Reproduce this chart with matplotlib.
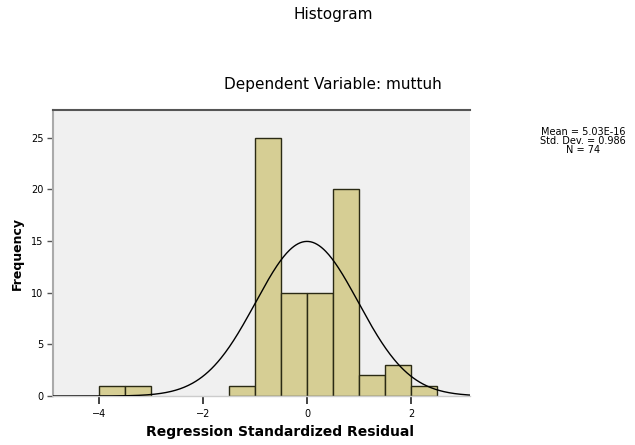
import numpy as np
import matplotlib
matplotlib.use('Agg')
import matplotlib.pyplot as plt

plt.rcParams['font.family']=['DejaVu Sans']

#histogram data (bin edges and counts)
bin_left=[-4.0,-3.5,-1.5,-1.0,-0.5,0.0,0.5,1.0,1.5,2.0]
bin_count=[1,1,1,25,10,10,20,2,3,1]
bin_width=0.5

#summary statistics shown in the legend
mean_value=5.03e-16
std_value=0.986
n_value=74

x_ticks=[-4,-2,0,2]
y_ticks=[0,5,10,15,20,25]

fig=plt.figure(figsize=(6.35,4.45),dpi=100)
ax=fig.add_axes([0.0835,0.110,0.6565,0.643])
ax.set_facecolor('#f0f0f0')

#bars
ax.bar(bin_left,bin_count,width=bin_width,align='edge',
       color='#d6ce94',edgecolor='#2a2a14',linewidth=1.0,zorder=2)

#normal curve
x_curve=np.linspace(-4.9,3.2,400)
y_curve=n_value*bin_width/(std_value*np.sqrt(2*np.pi))*np.exp(-0.5*((x_curve-mean_value)/std_value)**2)
ax.plot(x_curve,y_curve,color='k',linewidth=1.0,zorder=3)

ax.set_xlim([-4.88,3.13])
ax.set_ylim([0,27.7])

ax.set_xticks(x_ticks)
ax.set_yticks(y_ticks)
ax.tick_params(axis='x',direction='out',length=6,width=1.2,color='#222222',labelsize=7,pad=3)
ax.tick_params(axis='y',direction='out',length=4,width=1.0,color='#555555',labelsize=7,pad=3)

ax.spines['right'].set_visible(False)
ax.spines['top'].set_color('#555555')
ax.spines['top'].set_linewidth(1.5)
ax.spines['left'].set_color('#aaaaaa')
ax.spines['left'].set_linewidth(1.5)
ax.spines['bottom'].set_color('#cccccc')
ax.spines['bottom'].set_linewidth(1.0)

#titles and labels
fig.text(333/635,1-15/445,'Histogram',ha='center',va='center',fontsize=11)
fig.text(333/635,1-85/445,'Dependent Variable: muttuh',ha='center',va='center',fontsize=11)
fig.text(280/635,1-432/445,'Regression Standardized Residual',ha='center',va='center',
         fontsize=10,fontweight='bold')
fig.text(17/635,1-253/445,'Frequency',ha='center',va='center',rotation=90,
         fontsize=9,fontweight='bold')

#legend statistics
str_text='Mean = %.2E\nStd. Dev. = %.3f\nN = %d'%(mean_value,std_value,n_value)
fig.text(540/635,1-141/445,str_text,ha='left',va='center',multialignment='center',
         fontsize=7,linespacing=0.9)

plt.savefig('out.png',dpi=100)
plt.close()
